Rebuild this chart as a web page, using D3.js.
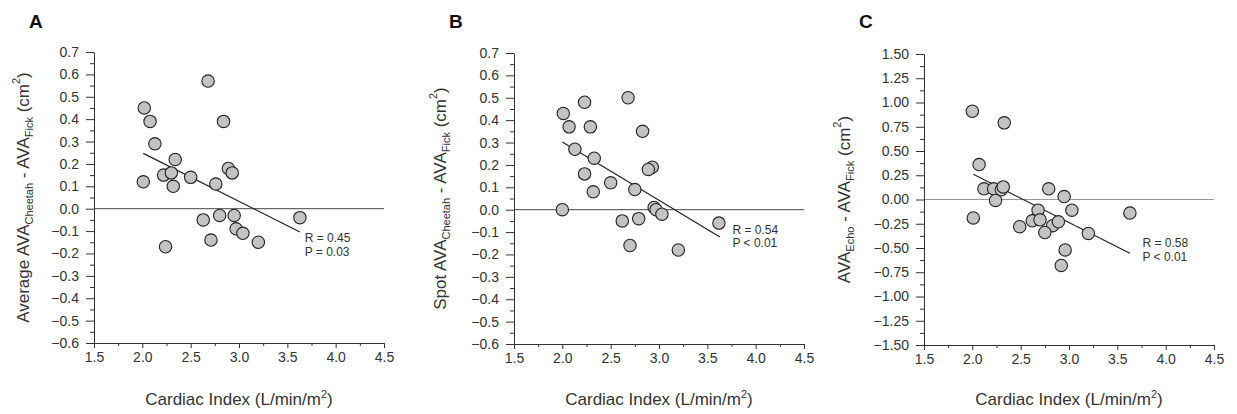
<!DOCTYPE html>
<html>
<head>
<meta charset="utf-8">
<script src="https://cdn.jsdelivr.net/npm/d3@7"></script>
<style>
  body { margin: 0; background: #fff; }
  svg { font-family: "Liberation Sans", Arial, sans-serif; }
  .axis path, .axis line { stroke: #333; }
</style>
</head>
<body>
<div id="chart"></div>
<script>
// Panel A: Average AVA(Cheetah) - AVA(Fick) vs cardiac index
const ciA = [2.02, 2.08, 2.13, 2.68, 2.84, 2.34, 2.22, 2.30, 2.50, 2.01, 2.32, 2.76, 2.89, 2.93,
             2.63, 2.80, 2.95, 2.97, 3.04, 2.71, 3.20, 2.24, 3.63];
const diffA = [0.45, 0.39, 0.29, 0.57, 0.39, 0.22, 0.15, 0.16, 0.14, 0.12, 0.10, 0.11, 0.18, 0.16,
               -0.05, -0.03, -0.03, -0.09, -0.11, -0.14, -0.15, -0.17, -0.04];
const fitA = [[2.01, 0.247], [3.63, -0.104]];

// Panel B: Spot AVA(Cheetah) - AVA(Fick)
const ciB = [2.01, 2.07, 2.23, 2.29, 2.68, 2.83, 2.13, 2.33, 2.23, 2.50, 2.32, 2.75, 2.93, 2.89,
             2.00, 2.95, 2.97, 3.03, 2.62, 2.79, 2.70, 3.20, 3.62];
const diffB = [0.43, 0.37, 0.48, 0.37, 0.50, 0.35, 0.27, 0.23, 0.16, 0.12, 0.08, 0.09, 0.19, 0.18,
               0.00, 0.01, 0.00, -0.02, -0.05, -0.04, -0.16, -0.18, -0.06];
const fitB = [[2.00, 0.302], [3.63, -0.122]];

// Panel C: AVA(Echo) - AVA(Fick)
const ciC = [2.00, 2.33, 2.07, 2.12, 2.22, 2.30, 2.32, 2.79, 2.95,
             2.24, 2.01, 3.03, 2.68, 2.49, 2.62, 2.70, 2.83, 2.89, 2.75, 3.20, 2.96, 2.92, 3.63];
const diffC = [0.91, 0.79, 0.36, 0.11, 0.11, 0.10, 0.13, 0.11, 0.03,
               -0.01, -0.19, -0.11, -0.11, -0.28, -0.22, -0.21, -0.27, -0.23, -0.34, -0.35, -0.52, -0.68, -0.14];
const fitC = [[2.01, 0.26], [3.63, -0.555]];

const xTicks = [1.5, 2.0, 2.5, 3.0, 3.5, 4.0, 4.5];
const yTicksAB = d3.range(-6, 8).map(d => d / 10);
const yTicksC = d3.range(-6, 7).map(d => d / 4);

const width = 1237, height = 414;

const svg = d3.select("#chart")
  .append("svg")
  .attr("width", width)
  .attr("height", height);

const panels = [
  { letter: "A", left: 94, top: 52, bottom: 343, xs: ciA, ys: diffA, fit: fitA,
    yDomain: [-0.6, 0.7], yTicks: yTicksAB, yFmt: d3.format(".1f"), yMinorStep: 0.05,
    labelX: 25, pre: "Average AVA", sub1: "Cheetah", zeroColor: "#444",
    stats: ["R = 0.45", "P = 0.03"], statsAt: [3.68, -0.15] },
  { letter: "B", left: 514, top: 53, bottom: 344, xs: ciB, ys: diffB, fit: fitB,
    yDomain: [-0.6, 0.7], yTicks: yTicksAB, yFmt: d3.format(".1f"), yMinorStep: 0.05,
    labelX: 442, pre: "Spot AVA", sub1: "Cheetah", zeroColor: "#444",
    stats: ["R = 0.54", "P < 0.01"], statsAt: [3.76, -0.107] },
  { letter: "C", left: 924, top: 54, bottom: 345, xs: ciC, ys: diffC, fit: fitC,
    yDomain: [-1.5, 1.5], yTicks: yTicksC, yFmt: d3.format(".2f"), yMinorStep: 0.125,
    labelX: 846, pre: "AVA", sub1: "Echo", zeroColor: "#999",
    stats: ["R = 0.58", "P < 0.01"], statsAt: [3.76, -0.49] }
];

function styleTicks(g) {
  g.selectAll("text")
    .attr("font-family", "'Liberation Sans', Arial, sans-serif")
    .attr("font-size", "14px")
    .attr("fill", "#333");
}

for (let p of panels) {
  let x = d3.scaleLinear().domain([1.5, 4.5]).range([p.left, p.left + 290]);
  let y = d3.scaleLinear().domain(p.yDomain).range([p.bottom, p.top]);

  // panel letter
  svg.append("text")
    .attr("x", p.left - 65)
    .attr("y", 28)
    .attr("font-size", "19px")
    .attr("font-weight", "bold")
    .attr("fill", "#111")
    .text(p.letter);

  // zero reference line
  svg.append("line")
    .attr("x1", x(1.5)).attr("x2", x(4.5))
    .attr("y1", y(0)).attr("y2", y(0))
    .attr("stroke", p.zeroColor)
    .attr("stroke-width", 1);

  // minor ticks
  let xMinor = d3.range(1.75, 4.5, 0.5);
  svg.append("g")
    .attr("class", "axis")
    .attr("transform", `translate(0,${p.bottom})`)
    .call(d3.axisBottom(x).tickValues(xMinor).tickSize(3).tickFormat(""))
    .select(".domain").remove();

  let yMinor = p.yTicks.slice(0, -1).map(d => d + p.yMinorStep);
  svg.append("g")
    .attr("class", "axis")
    .attr("transform", `translate(${p.left},0)`)
    .call(d3.axisLeft(y).tickValues(yMinor).tickSize(4).tickFormat(""))
    .select(".domain").remove();

  // major axes
  svg.append("g")
    .attr("class", "axis")
    .attr("transform", `translate(0,${p.bottom})`)
    .call(d3.axisBottom(x).tickValues(xTicks).tickSize(5).tickSizeOuter(0).tickPadding(4)
      .tickFormat(d3.format(".1f")))
    .call(styleTicks);

  svg.append("g")
    .attr("class", "axis")
    .attr("transform", `translate(${p.left},0)`)
    .call(d3.axisLeft(y).tickValues(p.yTicks).tickSize(8).tickSizeOuter(0).tickPadding(7)
      .tickFormat(p.yFmt))
    .call(styleTicks);

  // regression line
  svg.append("line")
    .attr("x1", x(p.fit[0][0])).attr("y1", y(p.fit[0][1]))
    .attr("x2", x(p.fit[1][0])).attr("y2", y(p.fit[1][1]))
    .attr("stroke", "#222")
    .attr("stroke-width", 1.2);

  // points
  svg.append("g")
    .selectAll("circle")
    .data(p.xs.map((v, i) => [v, p.ys[i]]))
    .join("circle")
    .attr("cx", d => x(d[0]))
    .attr("cy", d => y(d[1]))
    .attr("r", 6.2)
    .attr("fill", "#c3c3c3")
    .attr("stroke", "#222")
    .attr("stroke-width", 1.1);

  // stats annotation
  let st = svg.append("text")
    .attr("font-size", "12px")
    .attr("fill", "#333");
  p.stats.forEach((s, i) => {
    st.append("tspan")
      .attr("x", x(p.statsAt[0]))
      .attr("y", y(p.statsAt[1]) + i * 13.5)
      .text(s);
  });

  // x label
  let xl = svg.append("text")
    .attr("x", x(3.0))
    .attr("y", 405)
    .attr("text-anchor", "middle")
    .attr("font-size", "17px")
    .attr("fill", "#333")
    .text("Cardiac Index (L/min/m");
  xl.append("tspan").attr("font-size", "11px").attr("dy", -7).text("2");
  xl.append("tspan").attr("dy", 7).text(")");

  // y label
  let cy = (p.top + p.bottom) / 2;
  let yl = svg.append("text")
    .attr("transform", `translate(${p.labelX},${cy}) rotate(-90)`)
    .attr("text-anchor", "middle")
    .attr("dominant-baseline", "middle")
    .attr("font-size", "17px")
    .attr("fill", "#333")
    .text(p.pre);
  yl.append("tspan").attr("font-size", "11px").attr("dy", 5).text(p.sub1);
  yl.append("tspan").attr("dy", -5).text(" - AVA");
  yl.append("tspan").attr("font-size", "11px").attr("dy", 5).text("Fick");
  yl.append("tspan").attr("dy", -5).text(" (cm");
  yl.append("tspan").attr("font-size", "11px").attr("dy", -8).text("2");
  yl.append("tspan").attr("dy", 8).text(")");
}
</script>
</body>
</html>
